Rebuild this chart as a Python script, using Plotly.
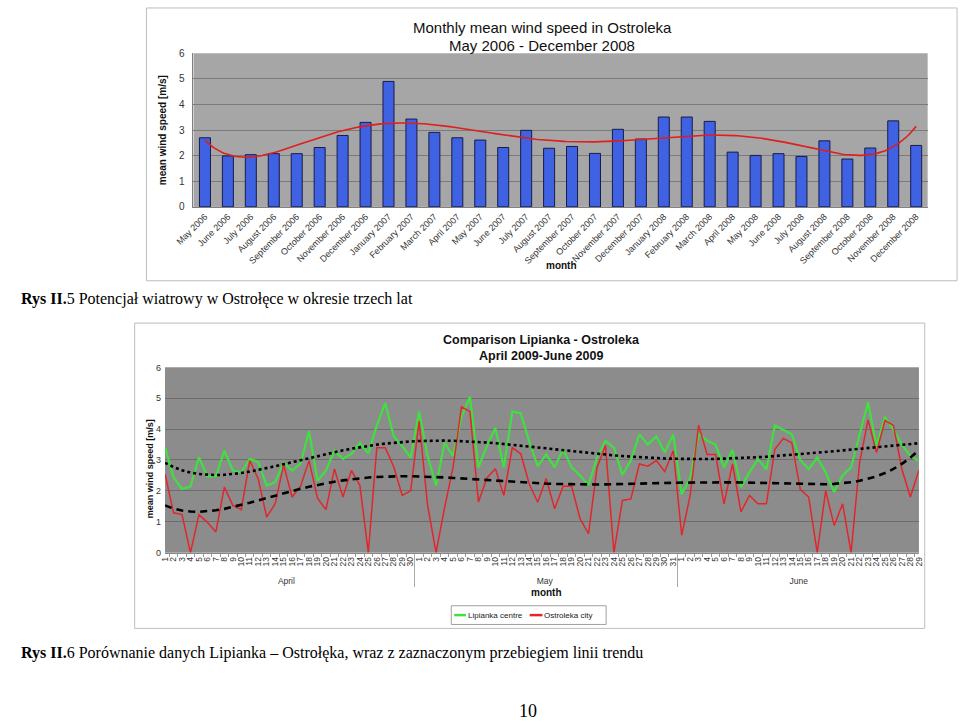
import numpy as np
import plotly.graph_objects as go

# ---------------- data: chart 1 ----------------
months = ["May 2006", "June 2006", "July 2006", "August 2006", "September 2006",
          "October 2006", "November 2006", "December 2006", "January 2007",
          "February 2007", "March 2007", "April 2007", "May 2007", "June 2007",
          "July 2007", "August 2007", "September 2007", "October 2007",
          "November 2007", "December 2007", "January 2008", "February 2008",
          "March 2008", "April 2008", "May 2008", "June 2008", "July 2008",
          "August 2008", "September 2008", "October 2008", "November 2008",
          "December 2008"]
monthly_speed = [2.70, 1.99, 2.04, 2.08, 2.08, 2.32, 2.79, 3.30, 4.90, 3.43,
                 2.91, 2.70, 2.61, 2.32, 2.99, 2.29, 2.36, 2.09, 3.03, 2.65,
                 3.51, 3.51, 3.34, 2.14, 2.01, 2.08, 1.97, 2.58, 1.87, 2.30,
                 3.36, 2.40]

# ---------------- data: chart 2 ----------------
month_names = ["April", "May", "June"]
month_days = [30, 31, 29]
series_names = ["Lipianka centre", "Ostroleka city"]
lipianka = [3.41, 2.44, 2.06, 2.14, 3.09, 2.47, 2.47, 3.30, 2.66, 2.60,
            3.04, 2.93, 2.17, 2.28, 2.91, 2.66, 2.88, 3.93, 2.33, 2.66,
            3.30, 3.04, 3.20, 3.55, 3.22, 4.12, 4.85, 3.77, 3.45, 3.08,
            4.57, 3.13, 2.17, 3.56, 3.13, 4.41, 5.05, 2.76, 3.45, 4.04,
            2.76, 4.57, 4.52, 3.60, 2.80, 3.18, 2.76, 3.35, 2.76, 2.50,
            2.18, 3.08, 3.62, 3.40, 2.52, 2.98, 3.83, 3.50, 3.77, 3.24,
            3.83,
            1.89, 2.42, 3.85, 3.62, 3.50, 2.76, 3.33, 2.12, 2.60, 3.03,
            2.70, 4.12, 3.98, 3.83, 3.00, 2.70, 3.08, 2.60, 1.96, 2.50,
            2.76, 3.77, 4.87, 3.45, 4.40, 3.98, 3.50, 3.13, 2.97]
ostroleka = [2.55, 1.29, 1.23, 0.00, 1.23, 0.98, 0.67, 2.12, 1.53, 1.39,
             2.98, 2.39, 1.15, 1.58, 2.84, 1.80, 2.15, 2.98, 1.76, 1.39,
             2.71, 1.80, 2.66, 2.18, 0.00, 3.40, 3.40, 2.78, 1.85, 2.00,
             4.25, 1.53, 0.00, 1.45, 2.75, 4.72, 4.57, 1.64, 2.42, 2.72,
             1.85, 3.40, 3.20, 2.22, 1.63, 2.40, 1.42, 2.15, 2.15, 1.10,
             0.61, 2.75, 3.47, 0.00, 1.69, 1.74, 2.87, 2.80, 2.98, 2.63,
             3.30,
             0.56, 1.85, 4.13, 3.18, 3.18, 1.58, 2.87, 1.32, 1.85, 1.58,
             1.58, 3.35, 3.70, 3.56, 2.05, 1.80, 0.00, 2.00, 0.88, 1.58,
             0.00, 2.90, 4.30, 3.24, 4.28, 4.12, 2.70, 1.80, 2.66]

W, H = 960, 724
FONT = "Liberation Sans, Arial, sans-serif"
SERIF = "Liberation Serif, Times New Roman, serif"
GREEN = "#3FE03F"
RED = "#E3262B"


def px(x):
    return x / W


def py(y):
    return 1 - y / H


fig = go.Figure()

# ---- chart 1 ----
idx1 = np.arange(len(months))
fig.add_trace(go.Bar(x=idx1, y=monthly_speed, xaxis="x", yaxis="y",
                     marker=dict(color="#3E62E2", line=dict(color="#1A1A4A", width=1)),
                     width=0.48, showlegend=False))
trend1 = np.polynomial.Polynomial.fit(idx1, monthly_speed, 6)
xs1 = np.linspace(0, len(months) - 1, 300)
fig.add_trace(go.Scatter(x=xs1, y=trend1(xs1), mode="lines", xaxis="x", yaxis="y",
                         line=dict(color="#E01E1E", width=1.6), showlegend=False,
                         hoverinfo="skip"))

# ---- chart 2 ----
outer = sum([[m] * n for m, n in zip(month_names, month_days)], [])
inner = sum([[str(d) for d in range(1, n + 1)] for n in month_days], [])
xcat = [outer, inner]
idx2 = np.arange(len(lipianka))
fig.add_trace(go.Scatter(x=xcat, y=lipianka, mode="lines", xaxis="x2", yaxis="y2",
                         name=series_names[0], line=dict(color=GREEN, width=2.2),
                         showlegend=False))
fig.add_trace(go.Scatter(x=xcat, y=ostroleka, mode="lines", xaxis="x2", yaxis="y2",
                         name=series_names[1], line=dict(color=RED, width=1.5),
                         showlegend=False))
tr_l = np.polynomial.Polynomial.fit(idx2, lipianka, 6)(idx2)
tr_o = np.polynomial.Polynomial.fit(idx2, ostroleka, 6)(idx2)
fig.add_trace(go.Scatter(x=xcat, y=tr_l, mode="lines", xaxis="x2", yaxis="y2",
                         line=dict(color="black", width=2.6, dash="dot"),
                         showlegend=False, hoverinfo="skip"))
fig.add_trace(go.Scatter(x=xcat, y=tr_o, mode="lines", xaxis="x2", yaxis="y2",
                         line=dict(color="black", width=2.6, dash="7px,5px"),
                         showlegend=False, hoverinfo="skip"))

fig.update_layout(
    width=W, height=H, margin=dict(l=0, r=0, t=0, b=0),
    paper_bgcolor="white", plot_bgcolor="#A6A6A6",
    font=dict(family=FONT, color="#222"),
    bargap=0.5, showlegend=False,
    xaxis=dict(domain=[px(178), px(927)], anchor="y", range=[-0.5, len(months) - 0.5],
               tickmode="array", tickvals=idx1, ticktext=months, tickangle=-45,
               tickfont=dict(size=9, color="#333"), showgrid=False,
               showline=True, linecolor="#808080", ticks="", zeroline=False),
    yaxis=dict(domain=[py(204), py(48)], anchor="x", range=[0, 6], dtick=1,
               tickfont=dict(size=10, color="#333"), gridcolor="#7A7A7A",
               showline=True, linecolor="#808080", zeroline=False, ticks="",
               ticklabelstandoff=6),
    xaxis2=dict(domain=[px(149), px(918)], anchor="y2", type="multicategory",
                tickmode="linear", dtick=1,
                tickangle=-90, tickfont=dict(size=8.5, color="#333"), showgrid=False,
                showline=True, linecolor="#888", ticks="outside", ticklen=3,
                tickcolor="#999", showdividers=True, dividercolor="#AAA",
                dividerwidth=1),
    yaxis2=dict(domain=[py(555), py(367)], anchor="x2", range=[0, 6], dtick=1,
                tickfont=dict(size=9, color="#333"), gridcolor="#6C6C6C",
                showline=False, zeroline=False, ticks="", ticklabelstandoff=3),
)

# second plot background
fig.add_shape(type="rect", xref="paper", yref="paper", x0=px(149), x1=px(918),
              y0=py(555), y1=py(367), fillcolor="#8C8C8C", line=dict(width=0),
              layer="below")
# frames
fig.add_shape(type="rect", xref="paper", yref="paper", x0=px(130), x1=px(957),
              y0=py(279), y1=py(2), line=dict(color="#BDBDBD", width=1),
              layer="below")
fig.add_shape(type="rect", xref="paper", yref="paper", x0=px(118), x1=px(924),
              y0=py(632), y1=py(322), line=dict(color="#BDBDBD", width=1),
              layer="below")

# legend box for chart 2
fig.add_shape(type="rect", xref="paper", yref="paper", x0=px(441), x1=px(599),
              y0=py(628), y1=py(609), line=dict(color="#A0A0A0", width=1),
              fillcolor="white")
fig.add_shape(type="line", xref="paper", yref="paper", x0=px(444), x1=px(456),
              y0=py(618.5), y1=py(618.5), line=dict(color=GREEN, width=2.5))
fig.add_shape(type="line", xref="paper", yref="paper", x0=px(521), x1=px(534),
              y0=py(618.5), y1=py(618.5), line=dict(color=RED, width=2.5))

ann = []


def A(text, x, y, size, bold=False, angle=0, family=FONT, xanchor="center", color="#111"):
    if bold:
        text = "<b>" + text + "</b>"
    ann.append(dict(text=text, x=px(x), y=py(y), xref="paper", yref="paper",
                    showarrow=False, textangle=angle, xanchor=xanchor,
                    yanchor="middle", font=dict(size=size, family=family, color=color)))


A("Monthly mean wind speed in Ostroleka", 534, 22, 15)
A("May 2006 - December 2008", 534, 40, 15)
A("mean wind speed [m/s]", 146, 126, 10, bold=True, angle=-90)
A("month", 553, 264, 10, bold=True)

A("Comparison Lipianka - Ostroleka", 533, 339, 12.5, bold=True)
A("April 2009-June 2009", 533, 355, 12.5, bold=True)
A("mean wind speed [m/s]", 133, 470, 9, bold=True, angle=-90)
A("month", 538, 596, 10, bold=True)

ann.append(dict(text=series_names[0], x=px(456), y=py(618.5), xref="paper", yref="paper",
                showarrow=False, xanchor="left", yanchor="middle",
                font=dict(size=8, family=FONT, color="#222")))
ann.append(dict(text=series_names[1], x=px(534), y=py(618.5), xref="paper", yref="paper",
                showarrow=False, xanchor="left", yanchor="middle",
                font=dict(size=8, family=FONT, color="#222")))

A("<b>Rys II.</b>5 Potencjał wiatrowy w Ostrołęce w okresie trzech lat", 0, 298, 16,
  family=SERIF, xanchor="left", color="black")
A("<b>Rys II.</b>6 Porównanie danych Lipianka – Ostrołęka, wraz z zaznaczonym przebiegiem linii trendu",
  0, 657, 16, family=SERIF, xanchor="left", color="black")
A("10", 519, 716, 18, family=SERIF, color="black")

fig.update_layout(annotations=ann)

fig.write_html("out.html", config={"displayModeBar": False},
               post_script="document.body.style.margin='0';")
